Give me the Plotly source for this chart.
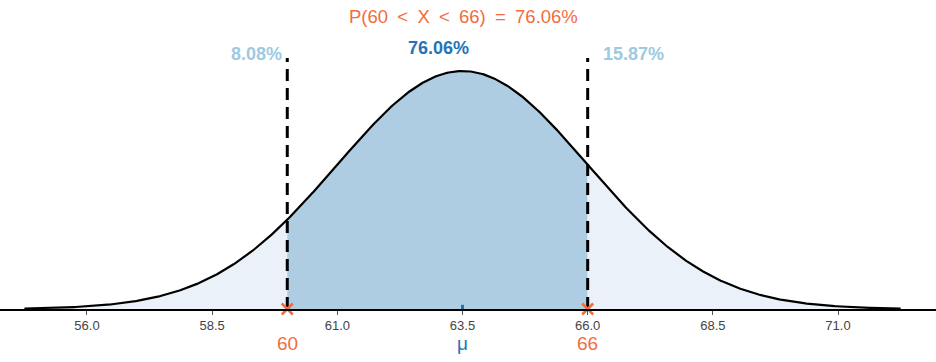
import math
import numpy as np
import plotly.graph_objects as go

# Distribution parameters and interval
mu = 63.5
sigma = 2.5
lower = 60
upper = 66
p_left = "8.08%"
p_mid = "76.06%"
p_right = "15.87%"
tick_vals = [56.0, 58.5, 61.0, 63.5, 66.0, 68.5, 71.0]
tick_text = ["56.0", "58.5", "61.0", "63.5", "66.0", "68.5", "71.0"]

ORANGE = "#f26d3d"
DARK_BLUE = "#2474b5"
LIGHT_BLUE = "#9ecae1"
MID_FILL = "#aecde2"
TAIL_FILL = "#eaf1f8"


def pdf(x):
    return np.exp(-0.5 * ((x - mu) / sigma) ** 2) / (sigma * math.sqrt(2 * math.pi))


x_all = np.linspace(mu - 3.5 * sigma, mu + 3.5 * sigma, 600)
x_left = np.linspace(mu - 3.5 * sigma, lower, 200)
x_mid = np.linspace(lower, upper, 300)
x_right = np.linspace(upper, mu + 3.5 * sigma, 200)

fig = go.Figure()


def area(xs, color):
    xx = np.concatenate([[xs[0]], xs, [xs[-1]]])
    yy = np.concatenate([[0], pdf(xs), [0]])
    fig.add_trace(go.Scatter(x=xx, y=yy, fill="toself", fillcolor=color,
                             line=dict(width=0), mode="lines", hoverinfo="skip",
                             showlegend=False))


area(x_left, TAIL_FILL)
area(x_mid, MID_FILL)
area(x_right, TAIL_FILL)

fig.add_trace(go.Scatter(x=x_all, y=pdf(x_all), mode="lines",
                         line=dict(color="black", width=2.2), showlegend=False))

ytop = 0.1683
for xv in [lower, upper]:
    fig.add_trace(go.Scatter(x=[xv, xv], y=[0, ytop], mode="lines",
                             line=dict(color="black", width=3, dash="12px,7px"),
                             showlegend=False))

# mean mark
fig.add_trace(go.Scatter(x=[mu, mu], y=[0, 0.0028], mode="lines",
                         line=dict(color=DARK_BLUE, width=3), showlegend=False))

# interval markers
fig.add_trace(go.Scatter(x=[lower, upper], y=[0, 0], mode="markers",
                         marker=dict(symbol="x-thin", size=11,
                                     line=dict(color=ORANGE, width=2.5)),
                         cliponaxis=False, showlegend=False))

x_min = 54.2625
x_max = 72.957
y_max = 0.2072

fig.update_layout(
    width=936, height=362,
    margin=dict(l=0, r=0, t=0, b=53),
    paper_bgcolor="white", plot_bgcolor="white",
    font=dict(family="Liberation Sans, Arial, sans-serif"),
    xaxis=dict(range=[x_min, x_max], tickvals=tick_vals, ticktext=tick_text,
               showgrid=False, zeroline=False, showline=True, linecolor="black",
               linewidth=1.5, ticks="outside", ticklen=4, tickcolor="#555",
               tickfont=dict(size=13, color="#444")),
    yaxis=dict(range=[0, y_max], visible=False, showgrid=False, zeroline=False),
)

sp = "\u2002"
title_text = f"P(60{sp}<{sp}X{sp}<{sp}66){sp}={sp}{p_mid}"
annots = [
    dict(x=463 / 936, y=362 - 16, text=title_text, color=ORANGE, size=18.5),
    dict(x=438 / 936, y=362 - 48, text=f"<b>{p_mid}</b>", color=DARK_BLUE, size=18),
    dict(x=256 / 936, y=362 - 54, text=f"<b>{p_left}</b>", color=LIGHT_BLUE, size=18),
    dict(x=633 / 936, y=362 - 54, text=f"<b>{p_right}</b>", color=LIGHT_BLUE, size=18),
]
for a in annots:
    fig.add_annotation(xref="paper", yref="paper", x=a["x"],
                       y=(a["y"] - 53) / 309, text=a["text"], showarrow=False,
                       font=dict(color=a["color"], size=a["size"]),
                       xanchor="center", yanchor="middle")

for xv, txt, col in [(lower, str(lower), ORANGE), (mu, "μ", DARK_BLUE), (upper, str(upper), ORANGE)]:
    fig.add_annotation(xref="x", yref="paper", x=xv, y=(362 - 343 - 53) / 309,
                       text=txt, showarrow=False, font=dict(color=col, size=19),
                       xanchor="center", yanchor="middle")

fig.write_html("out.html", post_script="document.body.style.margin='0';",
               config={"displayModeBar": False})
